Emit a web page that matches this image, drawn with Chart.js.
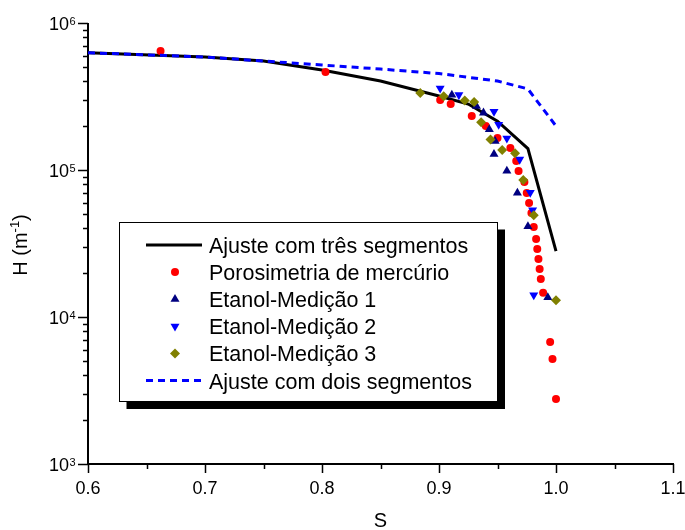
<!DOCTYPE html>
<html>
<head>
<meta charset="utf-8">
<script src="https://cdn.jsdelivr.net/npm/chart.js@4.4.1/dist/chart.umd.min.js"></script>
<style>
  html, body { margin: 0; padding: 0; background: #fff; }
</style>
</head>
<body>
<canvas id="curva" width="685" height="530"></canvas>
<script>
// Curva de retenção: campo H (m^-1) em função da saturação S

// Ajuste com três segmentos
const tresS = [0.6, 0.7, 0.75, 0.8, 0.85, 0.9, 0.925, 0.95, 0.976, 1.0];
const tresH = [628000, 587000, 551000, 479000, 403000, 319000, 281000, 215000, 140000, 28100];

// Porosimetria de mercúrio
const mercS = [0.662, 0.803, 0.901, 0.910, 0.928, 0.940, 0.950, 0.961, 0.966, 0.968, 0.973, 0.975,
  0.977, 0.979, 0.981, 0.983, 0.984, 0.985, 0.986, 0.987, 0.989, 0.995, 0.997, 1.000];
const mercH = [645000, 464000, 299000, 281000, 233000, 199000, 165000, 141000, 115000, 98500, 82900, 69800,
  59700, 51000, 40900, 33900, 29000, 24800, 21200, 18100, 14600, 6760, 5180, 2770];

// Etanol - medição 1
const et1S = [0.911, 0.932, 0.938, 0.943, 0.948, 0.947, 0.958, 0.967, 0.976, 0.993];
const et1H = [324000, 272000, 245000, 189000, 157000, 128000, 98500, 69800, 41300, 13600];

// Etanol - medição 2
const et2S = [0.901, 0.917, 0.947, 0.951, 0.958, 0.969, 0.978, 0.980, 0.981];
const et2H = [359000, 324000, 250000, 204000, 164000, 118000, 70300, 53400, 14100];

// Etanol - medição 3
const et3S = [0.884, 0.904, 0.922, 0.930, 0.936, 0.944, 0.954, 0.965, 0.972, 0.981, 1.000];
const et3H = [334000, 317000, 297000, 290000, 211000, 161000, 137000, 130000, 85500, 49200, 13000];

// Ajuste com dois segmentos
const doisS = [0.6, 0.7, 0.75, 0.8, 0.85, 0.9, 0.95, 0.976, 1.0];
const doisH = [628000, 587000, 551000, 518000, 486000, 453000, 403000, 356000, 199000];

// eixos
const xMajor = [0.6, 0.7, 0.8, 0.9, 1.0, 1.1];
const xLabels = ['0.6', '0.7', '0.8', '0.9', '1.0', '1.1'];
const yExp = [3, 4, 5, 6];

const pts = (xs, ys) => xs.map((x, i) => ({ x, y: ys[i] }));
const fonte = 'Arial, "Liberation Sans", sans-serif';

const series = [
  { label: 'Ajuste com três segmentos', data: pts(tresS, tresH), showLine: true,
    borderColor: '#000', borderWidth: 3, pointRadius: 0, tipo: 'linha' },
  { label: 'Porosimetria de mercúrio', data: pts(mercS, mercH), showLine: false,
    pointStyle: 'circle', pointRadius: 4, pointBorderWidth: 0,
    backgroundColor: '#ff0000', borderColor: '#ff0000' },
  { label: 'Etanol-Medição 1', data: pts(et1S, et1H), showLine: false,
    pointStyle: 'triangle', pointRadius: 5.2, pointBorderWidth: 0,
    backgroundColor: '#000080', borderColor: '#000080' },
  { label: 'Etanol-Medição 2', data: pts(et2S, et2H), showLine: false,
    pointStyle: 'triangle', pointRotation: 180, pointRadius: 5.2, pointBorderWidth: 0,
    backgroundColor: '#0000ff', borderColor: '#0000ff' },
  { label: 'Etanol-Medição 3', data: pts(et3S, et3H), showLine: false,
    pointStyle: 'rectRot', pointRadius: 5, pointBorderWidth: 0,
    backgroundColor: '#808000', borderColor: '#808000' },
  { label: 'Ajuste com dois segmentos', data: pts(doisS, doisH), showLine: true,
    borderColor: '#0000ff', borderWidth: 3, borderDash: [7, 5], pointRadius: 0, tipo: 'linha' }
];
// primeira série fica por baixo
series.forEach((s, i) => { s.order = series.length - i; });

// desenha eixos, marcas e rótulos
const eixos = {
  id: 'eixos',
  beforeDatasetsDraw(chart) {
    const ctx = chart.ctx;
    const { left, right, top, bottom } = chart.chartArea;
    const sx = chart.scales.x, sy = chart.scales.y;
    ctx.save();
    ctx.strokeStyle = '#000';
    ctx.fillStyle = '#000';
    ctx.lineWidth = 2;
    ctx.beginPath();
    ctx.moveTo(left, top);
    ctx.lineTo(left, bottom);
    ctx.lineTo(right + 1, bottom);
    ctx.stroke();

    // eixo x
    ctx.lineWidth = 1.5;
    ctx.beginPath();
    for (let v = 0.6; v <= 1.1001; v += 0.05) {
      const px = Math.round(sx.getPixelForValue(v)) + 0.5;
      const major = Math.abs(v * 10 - Math.round(v * 10)) < 1e-6;
      ctx.moveTo(px, bottom);
      ctx.lineTo(px, bottom + (major ? 9 : 5));
    }
    // eixo y (log)
    for (let e = 3; e <= 6; e++) {
      for (let m = 1; m <= 9; m++) {
        const v = m * Math.pow(10, e);
        if (v > 1e6) break;
        const py = Math.round(sy.getPixelForValue(v)) + 0.5;
        ctx.moveTo(left, py);
        ctx.lineTo(left - (m === 1 ? 10 : 5), py);
      }
    }
    ctx.stroke();

    ctx.font = '18px ' + fonte;
    ctx.textAlign = 'center';
    ctx.textBaseline = 'alphabetic';
    xMajor.forEach((v, i) => {
      ctx.fillText(xLabels[i], sx.getPixelForValue(v), bottom + 30);
    });

    yExp.forEach(e => {
      const py = sy.getPixelForValue(Math.pow(10, e));
      ctx.font = '18px ' + fonte;
      ctx.textAlign = 'right';
      ctx.fillText('10', 69, py + 7);
      ctx.font = '11px ' + fonte;
      ctx.textAlign = 'left';
      ctx.fillText(String(e), 69.5, py + 2);
    });

    // título x
    ctx.font = '20px ' + fonte;
    ctx.textAlign = 'center';
    ctx.fillText('S', (left + right) / 2, 527);

    // título y: H (m^-1)
    ctx.translate(27, 245);
    ctx.rotate(-Math.PI / 2);
    const a = 'H (m', b = '-1', c = ')';
    ctx.font = '20px ' + fonte;
    const wa = ctx.measureText(a).width, wc = ctx.measureText(c).width;
    ctx.font = '13px ' + fonte;
    const wb = ctx.measureText(b).width;
    let x0 = -(wa + wb + wc) / 2;
    ctx.textAlign = 'left';
    ctx.font = '20px ' + fonte;
    ctx.fillText(a, x0, 0);
    ctx.font = '13px ' + fonte;
    ctx.fillText(b, x0 + wa, -8);
    ctx.font = '20px ' + fonte;
    ctx.fillText(c, x0 + wa + wb, 0);
    ctx.restore();
  }
};

// legenda com moldura e sombra
const legenda = {
  id: 'legenda',
  afterDatasetsDraw(chart) {
    const ctx = chart.ctx;
    const bx = 119.5, by = 222.5, bw = 378, bh = 179;
    ctx.save();
    ctx.fillStyle = '#000';
    ctx.fillRect(bx + bw, by + 7, 7.5, bh + 0.5);
    ctx.fillRect(bx + 7, by + bh, bw + 0.5, 7.5);
    ctx.fillStyle = '#fff';
    ctx.fillRect(bx, by, bw, bh);
    ctx.strokeStyle = '#000';
    ctx.lineWidth = 1;
    ctx.strokeRect(bx, by, bw, bh);

    chart.data.datasets.forEach((ds, i) => {
      const y = 245 + i * 27.1;
      if (ds.tipo === 'linha') {
        ctx.strokeStyle = ds.borderColor;
        ctx.lineWidth = ds.borderWidth;
        ctx.setLineDash(ds.borderDash || []);
        ctx.beginPath();
        ctx.moveTo(146, y);
        ctx.lineTo(202, y);
        ctx.stroke();
        ctx.setLineDash([]);
      } else {
        ctx.fillStyle = ds.backgroundColor;
        ctx.strokeStyle = ds.borderColor;
        Chart.helpers.drawPoint(ctx, {
          pointStyle: ds.pointStyle,
          rotation: ds.pointRotation || 0,
          radius: ds.pointRadius,
          borderWidth: 0
        }, 175, y);
      }
      ctx.fillStyle = '#000';
      ctx.font = '21.5px ' + fonte;
      ctx.textAlign = 'left';
      ctx.textBaseline = 'alphabetic';
      ctx.fillText(ds.label, 209, y + 8);
    });
    ctx.restore();
  }
};

new Chart(document.getElementById('curva'), {
  type: 'scatter',
  data: { datasets: series },
  options: {
    responsive: false,
    animation: false,
    layout: { padding: { left: 88, top: 23, right: 12, bottom: 66 } },
    scales: {
      x: { type: 'linear', min: 0.6, max: 1.1, display: false },
      y: { type: 'logarithmic', min: 1000, max: 1000000, display: false }
    },
    plugins: { legend: { display: false }, tooltip: { enabled: false } }
  },
  plugins: [eixos, legenda]
});
</script>
</body>
</html>
